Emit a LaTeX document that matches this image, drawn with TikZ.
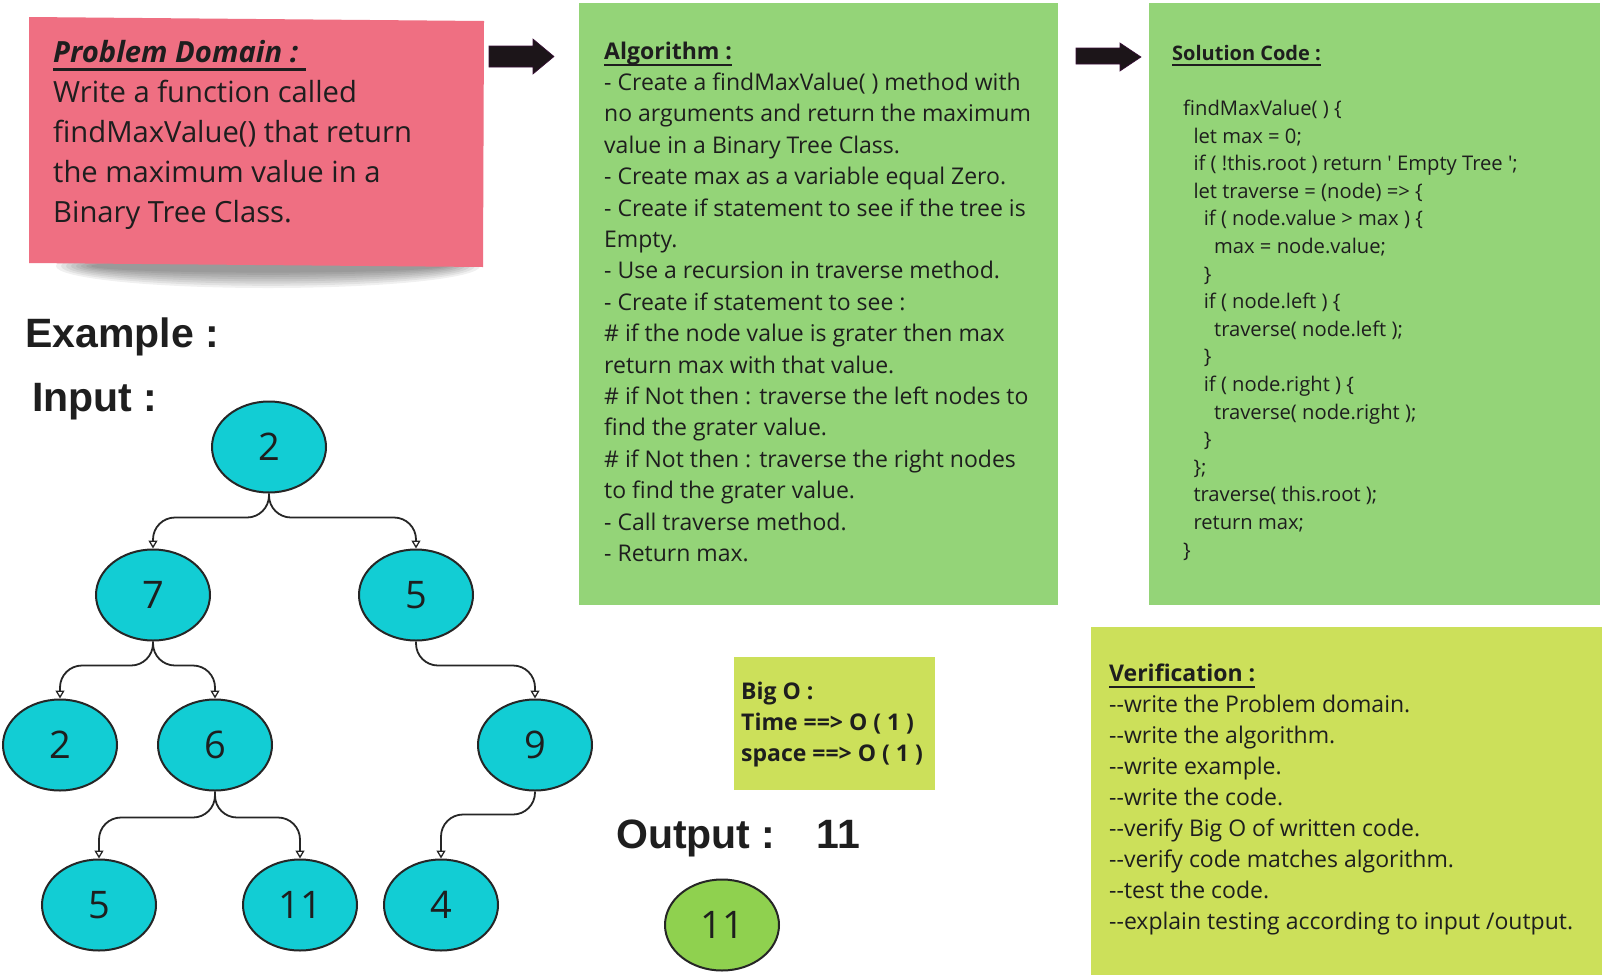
\documentclass[tikz,border=0pt]{standalone}
\usepackage{fontspec}
\setmainfont{Open Sans}[Ligatures=TeXOff]
\newfontfamily\headfont{Liberation Sans}
\usetikzlibrary{arrows.meta,shapes.geometric}

\definecolor{notepink}{HTML}{EF6F82}
\definecolor{boxgreen}{HTML}{94D478}
\definecolor{boxlime}{HTML}{CCE05A}
\definecolor{nodecyan}{HTML}{12CDD4}
\definecolor{outgreen}{HTML}{8FD14F}
\definecolor{ink}{HTML}{1E1E1E}
\definecolor{edgeink}{HTML}{262626}
\definecolor{arrowink}{HTML}{1C1519}

% underlined heading: rule drawn a little below the baseline
\newcommand\ulbox[1]{\setbox0\hbox{#1}\rlap{\rule[-0.3em]{\wd0}{0.085em}}\box0}

\begin{document}
\begin{tikzpicture}[x=1pt,y=-1pt,
  tnode/.style={ellipse, draw=edgeink, line width=2pt, fill=nodecyan,
    minimum width=114pt, minimum height=91pt, inner sep=0pt, text=ink,
    font=\fontsize{38}{38}\selectfont},
  outnode/.style={tnode, fill=outgreen},
  edge/.style={draw=edgeink, line width=1.8pt, rounded corners=22pt,
    -{Triangle[fill=white, length=8pt, width=9pt, line width=1.3pt]}},
  panel/.style={anchor=north west, inner sep=0pt, draw=none},
  % multi-line text blocks are placed by the baseline of their last line
  txt/.style={anchor=base west, inner sep=0pt, align=left, text=ink},
  heading/.style={anchor=base west, inner sep=0pt, text=ink,
    font=\headfont\bfseries\fontsize{41}{41}\selectfont},
  blockarrow/.style={fill=arrowink, draw=arrowink!70!violet, line width=0.6pt}
]
\useasboundingbox (0,0) rectangle (1602,975);
\fill[white] (0,0) rectangle (1602,975);

% ---- sticky note: soft shadow, then the note itself ----
\foreach \i in {0,...,7}
  \fill[black, opacity=0.06] (268,266) ellipse ({212-5*\i} and {22-2.2*\i});
\fill[notepink] (29,17) -- (484,21) -- (483,267) -- (29,263) -- cycle;
\node[txt, font=\fontsize{29.2}{40}\selectfont] (problem) at (53,222)
  {\ulbox{\bfseries\itshape Problem Domain :\ }\\
   Write a function called\\
   findMaxValue() that return\\
   the maximum value in a\\
   Binary Tree Class.};

% ---- block arrows between the top panels ----
\fill[blockarrow] (489,46) -- (533,46) -- (533,39) -- (554,56.5) -- (533,74)
  -- (533,67) -- (489,67) -- cycle;
\fill[blockarrow] (1076,48) -- (1120,48) -- (1120,43) -- (1141,57) -- (1120,71)
  -- (1120,64) -- (1076,64) -- cycle;

% ---- algorithm panel ----
\node[panel, fill=boxgreen, minimum width=479pt, minimum height=602pt]
  (algobox) at (579,3) {};
\node[txt, font=\fontsize{23}{31.4}\selectfont] (algo) at (604,561.4)
  {\ulbox{\bfseries Algorithm :}\\
   - Create a findMaxValue( ) method with\\
   no arguments and return the maximum\\
   value in a Binary Tree Class.\\
   - Create max as a variable equal Zero.\\
   - Create if statement to see if the tree is\\
   Empty.\\
   - Use a recursion in traverse method.\\
   - Create if statement to see :\\
   \# if the node value is grater then max\\
   return max with that value.\\
   \# if Not then : traverse the left nodes to\\
   find the grater value.\\
   \# if Not then : traverse the right nodes\\
   to find the grater value.\\
   - Call traverse method.\\
   - Return max.};

% ---- solution code panel ----
\node[panel, fill=boxgreen, minimum width=451pt, minimum height=602pt]
  (codebox) at (1149,3) {};
\node[txt, font=\bfseries\fontsize{20}{20}\selectfont] (codetitle) at (1172,60)
  {\ulbox{Solution Code :}};
\newcommand\ind[1]{\hspace*{#1\dimexpr 10.3pt\relax}}
\node[txt, font=\fontsize{20.2}{27.6}\selectfont] (code) at (1183,557)
  {findMaxValue( ) \{\\
   \ind{1}let max = 0;\\
   \ind{1}if ( !this.root ) return \textquotesingle{} Empty Tree \textquotesingle;\\
   \ind{1}let traverse = (node) => \{\\
   \ind{2}if ( node.value > max ) \{\\
   \ind{3}max = node.value;\\
   \ind{2}\}\\
   \ind{2}if ( node.left ) \{\\
   \ind{3}traverse( node.left );\\
   \ind{2}\}\\
   \ind{2}if ( node.right ) \{\\
   \ind{3}traverse( node.right );\\
   \ind{2}\}\\
   \ind{1}\};\\
   \ind{1}traverse( this.root );\\
   \ind{1}return max;\\
   \}};

% ---- verification panel ----
\node[panel, fill=boxlime, minimum width=511pt, minimum height=348pt]
  (verbox) at (1091,627) {};
\node[txt, font=\fontsize{23}{31}\selectfont] (verify) at (1109,929)
  {\ulbox{\bfseries Verification :}\\
   --write the Problem domain.\\
   --write the algorithm.\\
   --write example.\\
   --write the code.\\
   --verify Big O of written code.\\
   --verify code matches algorithm.\\
   --test the code.\\
   --explain testing according to input /output.};

% ---- big O panel ----
\node[panel, fill=boxlime, minimum width=201pt, minimum height=133pt]
  (bigobox) at (734,657) {};
\node[txt, font=\bfseries\fontsize{23}{31}\selectfont] (bigo) at (741,761)
  {Big O :\\
   Time ==> O ( 1 )\\
   space ==> O ( 1 )};

% ---- headings ----
\node[heading] (example) at (25,347) {Example :};
\node[heading] (input) at (32,411) {Input :};
\node[heading] (output) at (616,848) {Output :\hspace{41pt}11};

% ---- binary tree ----
\node[tnode] (r)   at (269,447) {2};
\node[tnode] (a7)  at (153,595) {7};
\node[tnode] (a5)  at (416,595) {5};
\node[tnode] (b2)  at (60,745)  {2};
\node[tnode] (b6)  at (215,745) {6};
\node[tnode] (b9)  at (535,745) {9};
\node[tnode] (c5)  at (99,905)  {5};
\node[tnode] (c11) at (300,905) {11};
\node[tnode] (c4)  at (441,905) {4};

\draw[edge] (r.south)  -- ++(0,24) -| (a7.north);
\draw[edge] (r.south)  -- ++(0,24) -| (a5.north);
\draw[edge] (a7.south) -- ++(0,24) -| (b2.north);
\draw[edge] (a7.south) -- ++(0,24) -| (b6.north);
\draw[edge] (a5.south) -- ++(0,24) -| (b9.north);
\draw[edge] (b6.south) -- ++(0,26) -| (c5.north);
\draw[edge] (b6.south) -- ++(0,26) -| (c11.north);
\draw[edge] (b9.south) -- ++(0,23) -| (c4.north);

% ---- result ----
\node[outnode] (result) at (722,925) {11};
\end{tikzpicture}
\end{document}
